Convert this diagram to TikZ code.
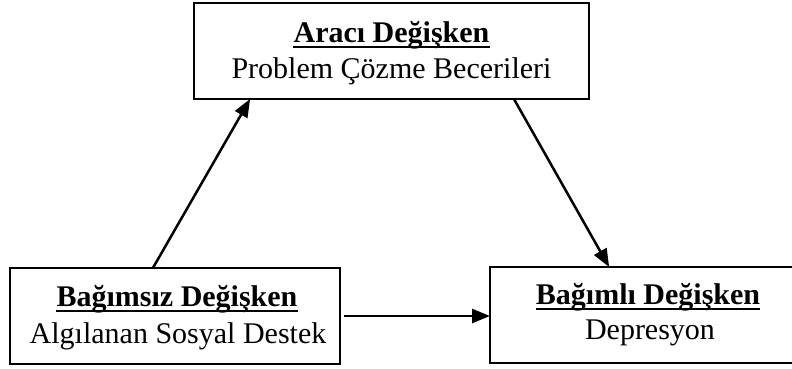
\documentclass[tikz,border=0pt]{standalone}
\usepackage{fontspec}
\setmainfont{Liberation Serif}
\usetikzlibrary{arrows.meta,calc}
\begin{document}
\begin{tikzpicture}[x=1pt,y=-1pt,
  box/.style={draw,line width=2.2pt,outer sep=0pt,inner sep=0pt,rectangle},
  ttl/.style={inner sep=0pt,anchor=base,font=\fontsize{30}{36}\selectfont\bfseries},
  sub/.style={inner sep=0pt,anchor=base,font=\fontsize{30}{36}\selectfont},
  uln/.style={line width=2.2pt},
  arr/.style={line width=2.5pt,-{Triangle[length=18pt,width=14pt]}}]
\useasboundingbox (0,0) rectangle (792,368);
% boxes
\node[box,minimum width=395pt,minimum height=96pt] (tb) at (391.5,51) {};
\node[box,minimum width=330pt,minimum height=96pt] (lb) at (175,316) {};
\node[box,minimum width=316pt,minimum height=96pt] (rb) at (648,315) {};
% texts
\node[ttl] (t1) at (391.5,42) {Aracı Değişken};
\node[sub] (s1) at (391.5,78) {Problem Çözme Becerileri};
\node[ttl] (t2) at (177,306) {Bağımsız Değişken};
\node[sub] (s2) at (178,343) {Algılanan Sosyal Destek};
\node[ttl] (t3) at (648,304) {Bağımlı Değişken};
\node[sub] (s3) at (650,339) {Depresyon};
% underlines
\draw[uln] ([yshift=-5pt]t1.base west) -- ([yshift=-5pt]t1.base east);
\draw[uln] ([yshift=-5pt]t2.base west) -- ([yshift=-5pt]t2.base east);
\draw[uln] ([yshift=-5pt]t3.base west) -- ([yshift=-5pt]t3.base east);
% connectors
\draw[arr] ($(lb.north west)!0.433!(lb.north east)$) -- ($(tb.south west)!0.142!(tb.south east)$);
\draw[arr] ($(tb.south west)!0.81!(tb.south east)$) -- ($(rb.north west)!0.377!(rb.north east)$);
\draw[arr,shorten <=4pt] (lb.east) -- (lb.east -| rb.west);
\end{tikzpicture}
\end{document}
